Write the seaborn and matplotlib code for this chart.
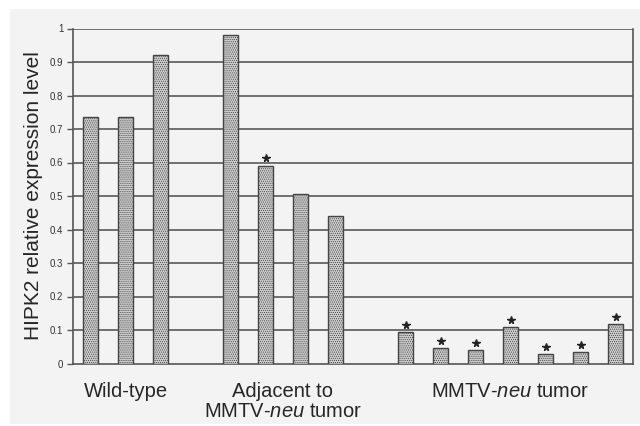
import numpy as np
import pandas as pd
import matplotlib
matplotlib.use("Agg")
import matplotlib.pyplot as plt
import seaborn as sns
from matplotlib.patches import Rectangle

# %%
slots = ['wt1', 'wt2', 'wt3', 'gap1', 'adj1', 'adj2', 'adj3', 'adj4', 'gap2',
         't1', 't2', 't3', 't4', 't5', 't6', 't7']
values = [0.735, 0.735, 0.92, np.nan, 0.98, 0.59, 0.505, 0.44, np.nan,
          0.093, 0.046, 0.039, 0.108, 0.027, 0.033, 0.117]
starred = ['adj2', 't1', 't2', 't3', 't4', 't5', 't6', 't7']
group_labels = ['Wild-type', 'Adjacent to\nMMTV-$\\it{neu}$ tumor', 'MMTV-$\\it{neu}$ tumor']
group_centers = [1, 5.5, 12]
yticks = [0, 0.1, 0.2, 0.3, 0.4, 0.5, 0.6, 0.7, 0.8, 0.9, 1]

df = pd.DataFrame({'slot': slots, 'value': values})

# %%
sns.set_style('white')
plt.rcParams['font.family'] = ['Liberation Sans', 'DejaVu Sans']
plt.rcParams['mathtext.fontset'] = 'custom'
plt.rcParams['mathtext.it'] = 'Liberation Sans:italic'
plt.rcParams['mathtext.rm'] = 'Liberation Sans'
plt.rcParams['hatch.color'] = '#a8a8a8'
plt.rcParams['hatch.linewidth'] = 0.5

bg = '#f3f3f3'
fig = plt.figure(figsize=(6.4, 4.26), dpi=100)
fig.patch.set_facecolor('white')
fig.patches.append(Rectangle((10 / 640, 0.004), 1, 1 - 9 / 426 - 0.004,
                             transform=fig.transFigure, facecolor=bg,
                             edgecolor='none', zorder=-10))
ax = fig.add_axes([73 / 640, 1 - 363.5 / 426, 560 / 640, 335 / 426])
ax.set_facecolor(bg)

sns.barplot(data=df, x='slot', y='value', order=slots, ax=ax, width=0.43,
            color='#cdcdcd', edgecolor='#444444', linewidth=1.0, zorder=3)
for p in ax.patches:
    p.set_hatch('........')
    p.set_zorder(3)

# stars above significant bars
for s in starred:
    i = slots.index(s)
    v = values[i]
    ax.plot(i, v + 0.022, marker='*', color='#222222', markersize=5.5,
            linestyle='none', zorder=4)

ax.set_ylim(0, 1)
ax.set_xlim(-0.5, len(slots) - 0.5)
ax.set_yticks(yticks)
ax.set_yticklabels([f'{t:g}' for t in yticks], fontsize=7, color='#333333')
for t in yticks[1:]:
    ax.axhline(t, color='#6f6f6f', linewidth=1.4, zorder=1)

ax.set_xticks(np.arange(-0.5, len(slots)), minor=True)
ax.set_xticks([])
ax.tick_params(axis='x', which='minor', direction='out', length=3,
               color='#555555', width=1)
ax.tick_params(axis='y', direction='out', length=4, color='#555555',
               width=1, left=True, pad=3)

for side in ['left', 'bottom', 'right']:
    ax.spines[side].set_visible(True)
    ax.spines[side].set_color('#555555')
    ax.spines[side].set_linewidth(1.2)
ax.spines['top'].set_visible(False)

ax.set_xlabel('')
ax.set_ylabel('HIPK2 relative expression level', fontsize=15)
ax.yaxis.set_label_coords(-0.054, 0.5)

for lab, c in zip(group_labels, group_centers):
    ax.text(c, -0.055, lab, ha='center', va='top', fontsize=14.5,
            transform=ax.get_xaxis_transform(), linespacing=1.1)

fig.savefig('out.png', dpi=100, facecolor=fig.get_facecolor())
